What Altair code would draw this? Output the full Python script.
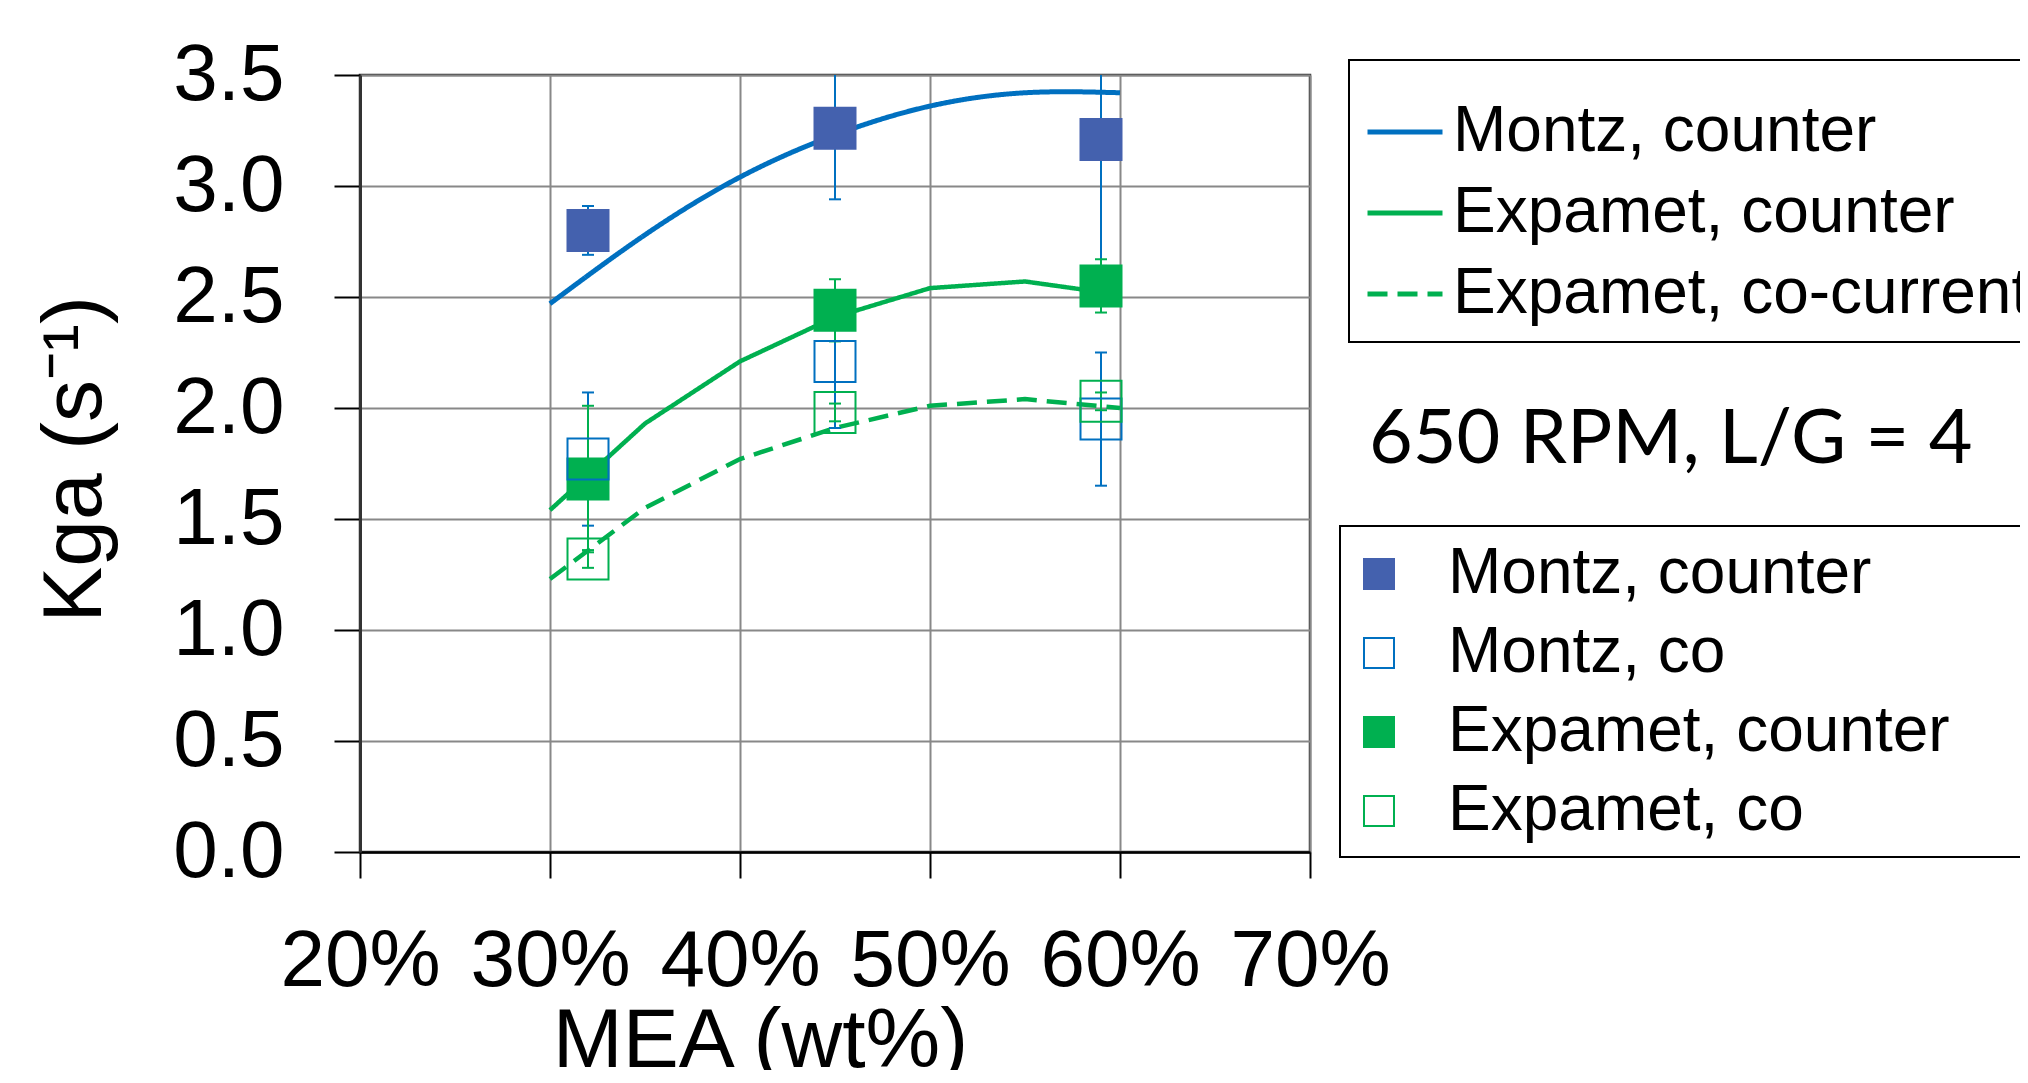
import altair as alt
import pandas as pd

# ---- data ----
mea_points = [0.32, 0.45, 0.59]
montz_counter = [2.80, 3.26, 3.21]
montz_counter_err = [0.11, 0.32, 0.57]
montz_co = [1.77, 2.21, 1.95]
montz_co_err = [0.30, 0.30, 0.30]
expamet_counter = [1.68, 2.44, 2.55]
expamet_counter_err = [0.33, 0.14, 0.12]
expamet_co = [1.32, 1.98, 2.03]
expamet_co_err = [0.04, 0.04, 0.04]

fit_x = [0.30, 0.35, 0.40, 0.45, 0.50, 0.55, 0.60]
montz_counter_fit = [2.47, 2.78, 3.04, 3.23, 3.36, 3.42, 3.42]
expamet_counter_fit = [1.54, 1.93, 2.21, 2.41, 2.54, 2.57, 2.51]
expamet_cocurrent_fit = [1.23, 1.55, 1.77, 1.91, 2.01, 2.04, 2.00]

line_series = ["Montz, counter", "Expamet, counter", "Expamet, co-current"]
point_series = ["Montz, counter", "Montz, co", "Expamet, counter", "Expamet, co"]
x_ticks = [0.2, 0.3, 0.4, 0.5, 0.6, 0.7]
y_ticks = [0.0, 0.5, 1.0, 1.5, 2.0, 2.5, 3.0, 3.5]
annotation = "650 RPM, L/G = 4"
x_title = "MEA (wt%)"
y_title = "Kga (s\u207b\u00b9)"

BLUE = "#0070C0"
BLUE_FILL = "#4461AE"
GREEN = "#00B050"

# ---- tables ----
line_rows = []
for name, vals in zip(line_series, [montz_counter_fit, expamet_counter_fit, expamet_cocurrent_fit]):
    for xv, v in zip(fit_x, vals):
        line_rows.append({"mea": xv, "kga": v, "series": name, "maker": name.split(",")[0]})
lines_df = pd.DataFrame(line_rows)

pt_rows = []
for name, vals, errs in [
    ("Montz, counter", montz_counter, montz_counter_err),
    ("Expamet, counter", expamet_counter, expamet_counter_err),
    ("Montz, co", montz_co, montz_co_err),
    ("Expamet, co", expamet_co, expamet_co_err),
]:
    for xv, v, e in zip(mea_points, vals, errs):
        pt_rows.append({"mea": xv, "kga": v, "lo": v - e, "hi": v + e,
                        "series": name, "maker": name.split(",")[0]})
pts_df = pd.DataFrame(pt_rows)
pts_df["ord"] = range(len(pts_df))

x_scale = alt.Scale(domain=[0.2, 0.7], nice=False, zero=False)
y_scale = alt.Scale(domain=[0, 3.5], nice=False)

x_axis = alt.Axis(values=x_ticks, format=".0%", title=x_title, labelPadding=44,
                  labelFlush=False, labelOverlap=False, domainColor="#000000",
                  domainWidth=2.5, titleX=400, titleY=214, titleBaseline="alphabetic",
                  titleAlign="center")
y_axis = alt.Axis(values=y_ticks, format=".1f", title=y_title, labelPadding=50,
                  labelOverlap=False, labelFlush=False, domainColor="#333333",
                  domainWidth=3, titleX=-260, titleY=384, titleAngle=270,
                  titleBaseline="alphabetic", titleAlign="center")


def X():
    return alt.X("mea:Q", scale=x_scale, axis=x_axis)


def Y(field):
    return alt.Y(f"{field}:Q", scale=y_scale, axis=y_axis)


# invisible legend titles, only used to let the legend boxes run past the right edge
spacer_top = "M" * 160
spacer_bottom = "M" * 640

line_legend = alt.Legend(orient="none", legendX=989, legendY=-15, title=spacer_top,
                         titleFontSize=8, titlePadding=8, titleColor="transparent",
                         titleLimit=5000,
                         symbolType="stroke", symbolSize=5625, symbolStrokeWidth=5,
                         labelFontSize=64, labelFont="Liberation Sans", labelColor="#000000",
                         padding=16, rowPadding=9, strokeColor="#000000", labelOffset=8,
                         labelLimit=1000)
line_color = alt.Color("series:N", scale=alt.Scale(domain=line_series, range=[BLUE, GREEN, GREEN]),
                       legend=line_legend)
line_dash = alt.StrokeDash("series:N", scale=alt.Scale(domain=line_series,
                                                       range=[[1, 0], [1, 0], [20, 10]]),
                           legend=line_legend)

lines_montz = alt.Chart(lines_df).transform_filter(alt.datum.maker == "Montz").mark_line(
    interpolate="natural", strokeWidth=5).encode(x=X(), y=Y("kga"), color=line_color,
                                                  strokeDash=line_dash)
lines_exp = alt.Chart(lines_df).transform_filter(alt.datum.maker == "Expamet").mark_line(
    strokeWidth=4.5).encode(x=X(), y=Y("kga"), color=line_color, strokeDash=line_dash)

err_layers = []
for maker, col in [("Montz", BLUE), ("Expamet", GREEN)]:
    base = alt.Chart(pts_df).transform_filter(alt.datum.maker == maker)
    err_layers.append(base.mark_rule(strokeWidth=2, clip=True, color=col).encode(
        x=X(), y=Y("lo"), y2="hi:Q"))
    err_layers.append(base.transform_fold(["lo", "hi"], as_=["end", "val"]).mark_tick(
        orient="horizontal", size=12, thickness=2, clip=True, color=col, opacity=1).encode(
        x=X(), y=Y("val")))

pt_legend = alt.Legend(orient="none", legendX=980, legendY=451, title=spacer_bottom,
                       titleFontSize=2, titlePadding=0, titleColor="transparent",
                       titleLimit=5000,
                       symbolType="square", symbolSize=900, symbolStrokeWidth=2,
                       labelFontSize=64, labelFont="Liberation Sans", labelColor="#000000",
                       padding=14, rowPadding=15, strokeColor="#000000", labelOffset=37,
                       symbolOffset=-7, labelLimit=1000)
points = alt.Chart(pts_df).mark_point(shape="square", size=1681, strokeWidth=2, opacity=1).encode(
    x=X(), y=Y("kga"),
    fill=alt.Fill("series:N", scale=alt.Scale(domain=point_series,
                                              range=[BLUE_FILL, "transparent", GREEN, "transparent"]),
                  legend=pt_legend),
    stroke=alt.Stroke("series:N", scale=alt.Scale(domain=point_series,
                                                  range=[BLUE_FILL, BLUE, GREEN, GREEN]),
                      legend=pt_legend),
    order="ord:Q",
)

note = alt.Chart(pd.DataFrame({"t": [annotation]})).mark_text(
    font="Lato", fontSize=75.5, align="left", baseline="alphabetic", color="#000000").encode(
    text="t:N", x=alt.value(1009), y=alt.value(388))

chart = alt.layer(lines_montz, lines_exp, *err_layers, points, note).properties(
    width=950, height=777,
    autosize=alt.AutoSizeParams(type="none"),
    padding={"left": 352, "top": 67, "right": 710, "bottom": 218},
).configure_view(stroke="#333333", strokeWidth=2.5).configure_axis(
    labelFont="Liberation Sans", titleFont="Liberation Sans", labelFontSize=80,
    titleFontSize=84, labelColor="#000000", titleColor="#000000", titleFontWeight="normal",
    gridColor="#888888", gridWidth=2, gridOpacity=1, tickColor="#000000", tickSize=26,
    tickWidth=2,
).configure_legend(strokeWidth=2)

chart.save("out.html", embed_options={"renderer": "svg", "actions": False})
